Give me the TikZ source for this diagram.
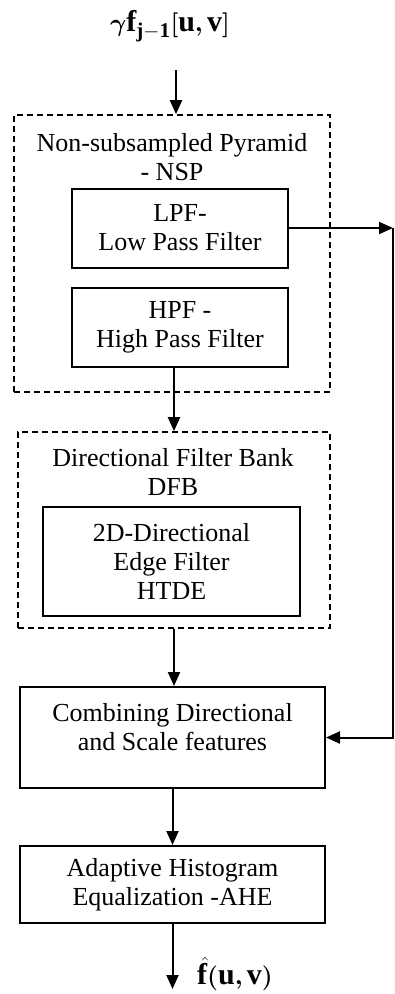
\documentclass[tikz,border=0pt]{standalone}
\usepackage{fontspec}
\setmainfont{Liberation Serif}
\usepackage{amsmath,bm}
\usetikzlibrary{arrows.meta,calc}
\begin{document}
\begin{tikzpicture}[x=1pt,y=-1pt,
  every node/.style={font=\fontsize{26}{29}\selectfont, align=center, inner sep=0pt},
  mathlabel/.style={font=\fontsize{30}{34}\selectfont},
  solidbox/.style={draw, line width=2pt, rectangle},
  dashbox/.style={draw, line width=1.6pt, dash pattern=on 6pt off 4pt, rectangle},
  arr/.style={line width=2pt, -{Triangle[length=14pt,width=12pt]}}]
\useasboundingbox (0,0) rectangle (395,994);
\node[mathlabel] (title) at (170,26) {$\bm{\gamma}\mathbf{f}_{\mathbf{j-1}}\bm{[}\mathbf{u}\bm{,}\mathbf{v}\bm{]}$};
\coordinate (inpt) at (176,70);
\node[dashbox, minimum width=316pt, minimum height=277pt] (nsp) at (172,253.5) {};
\node (nsptext) at (172,157) {Non-subsampled Pyramid\\- NSP};
\node[solidbox, minimum width=216pt, minimum height=79pt] (lpf) at (180,228) {LPF-\\Low Pass Filter};
\node[solidbox, minimum width=216pt, minimum height=79pt] (hpf) at (180,327.5) {HPF -\\High Pass Filter};
\node[dashbox, minimum width=312pt, minimum height=196pt] (dfb) at (174,530) {};
\node (dfbtext) at (173,472) {Directional Filter Bank\\DFB};
\node[solidbox, minimum width=257pt, minimum height=109pt] (htde) at (171.5,561.5) {2D-Directional\\Edge Filter\\HTDE};
\node[solidbox, minimum width=305pt, minimum height=101pt] (comb) at (172.5,737.5) {};
\node (combtext) at (172.5,727) {Combining Directional\\and Scale features};
\node[solidbox, minimum width=305pt, minimum height=77pt] (ahe) at (172.5,884.5) {Adaptive Histogram\\Equalization -AHE};
\coordinate (fend) at (172.5,989);
\node[mathlabel] (flabel) at (235,974) {$\skew{4}{\hat}{\mathbf{f}}\bm{(}\mathbf{u}\bm{,}\mathbf{v}\bm{)}$};
\coordinate (corner) at (393,228);
\draw[arr] (inpt) -- (inpt |- nsp.north);
\draw[arr] (dfb.north |- hpf.south) -- (dfb.north);
\draw[arr] (dfb.south) -- (dfb.south |- comb.north);
\draw[arr] (comb.south) -- (ahe.north);
\draw[arr] (ahe.south) -- (fend);
\draw[arr] (lpf.east) -- (corner);
\draw[arr] (corner) -- (corner |- comb.east) -- (comb.east);
\end{tikzpicture}
\end{document}
